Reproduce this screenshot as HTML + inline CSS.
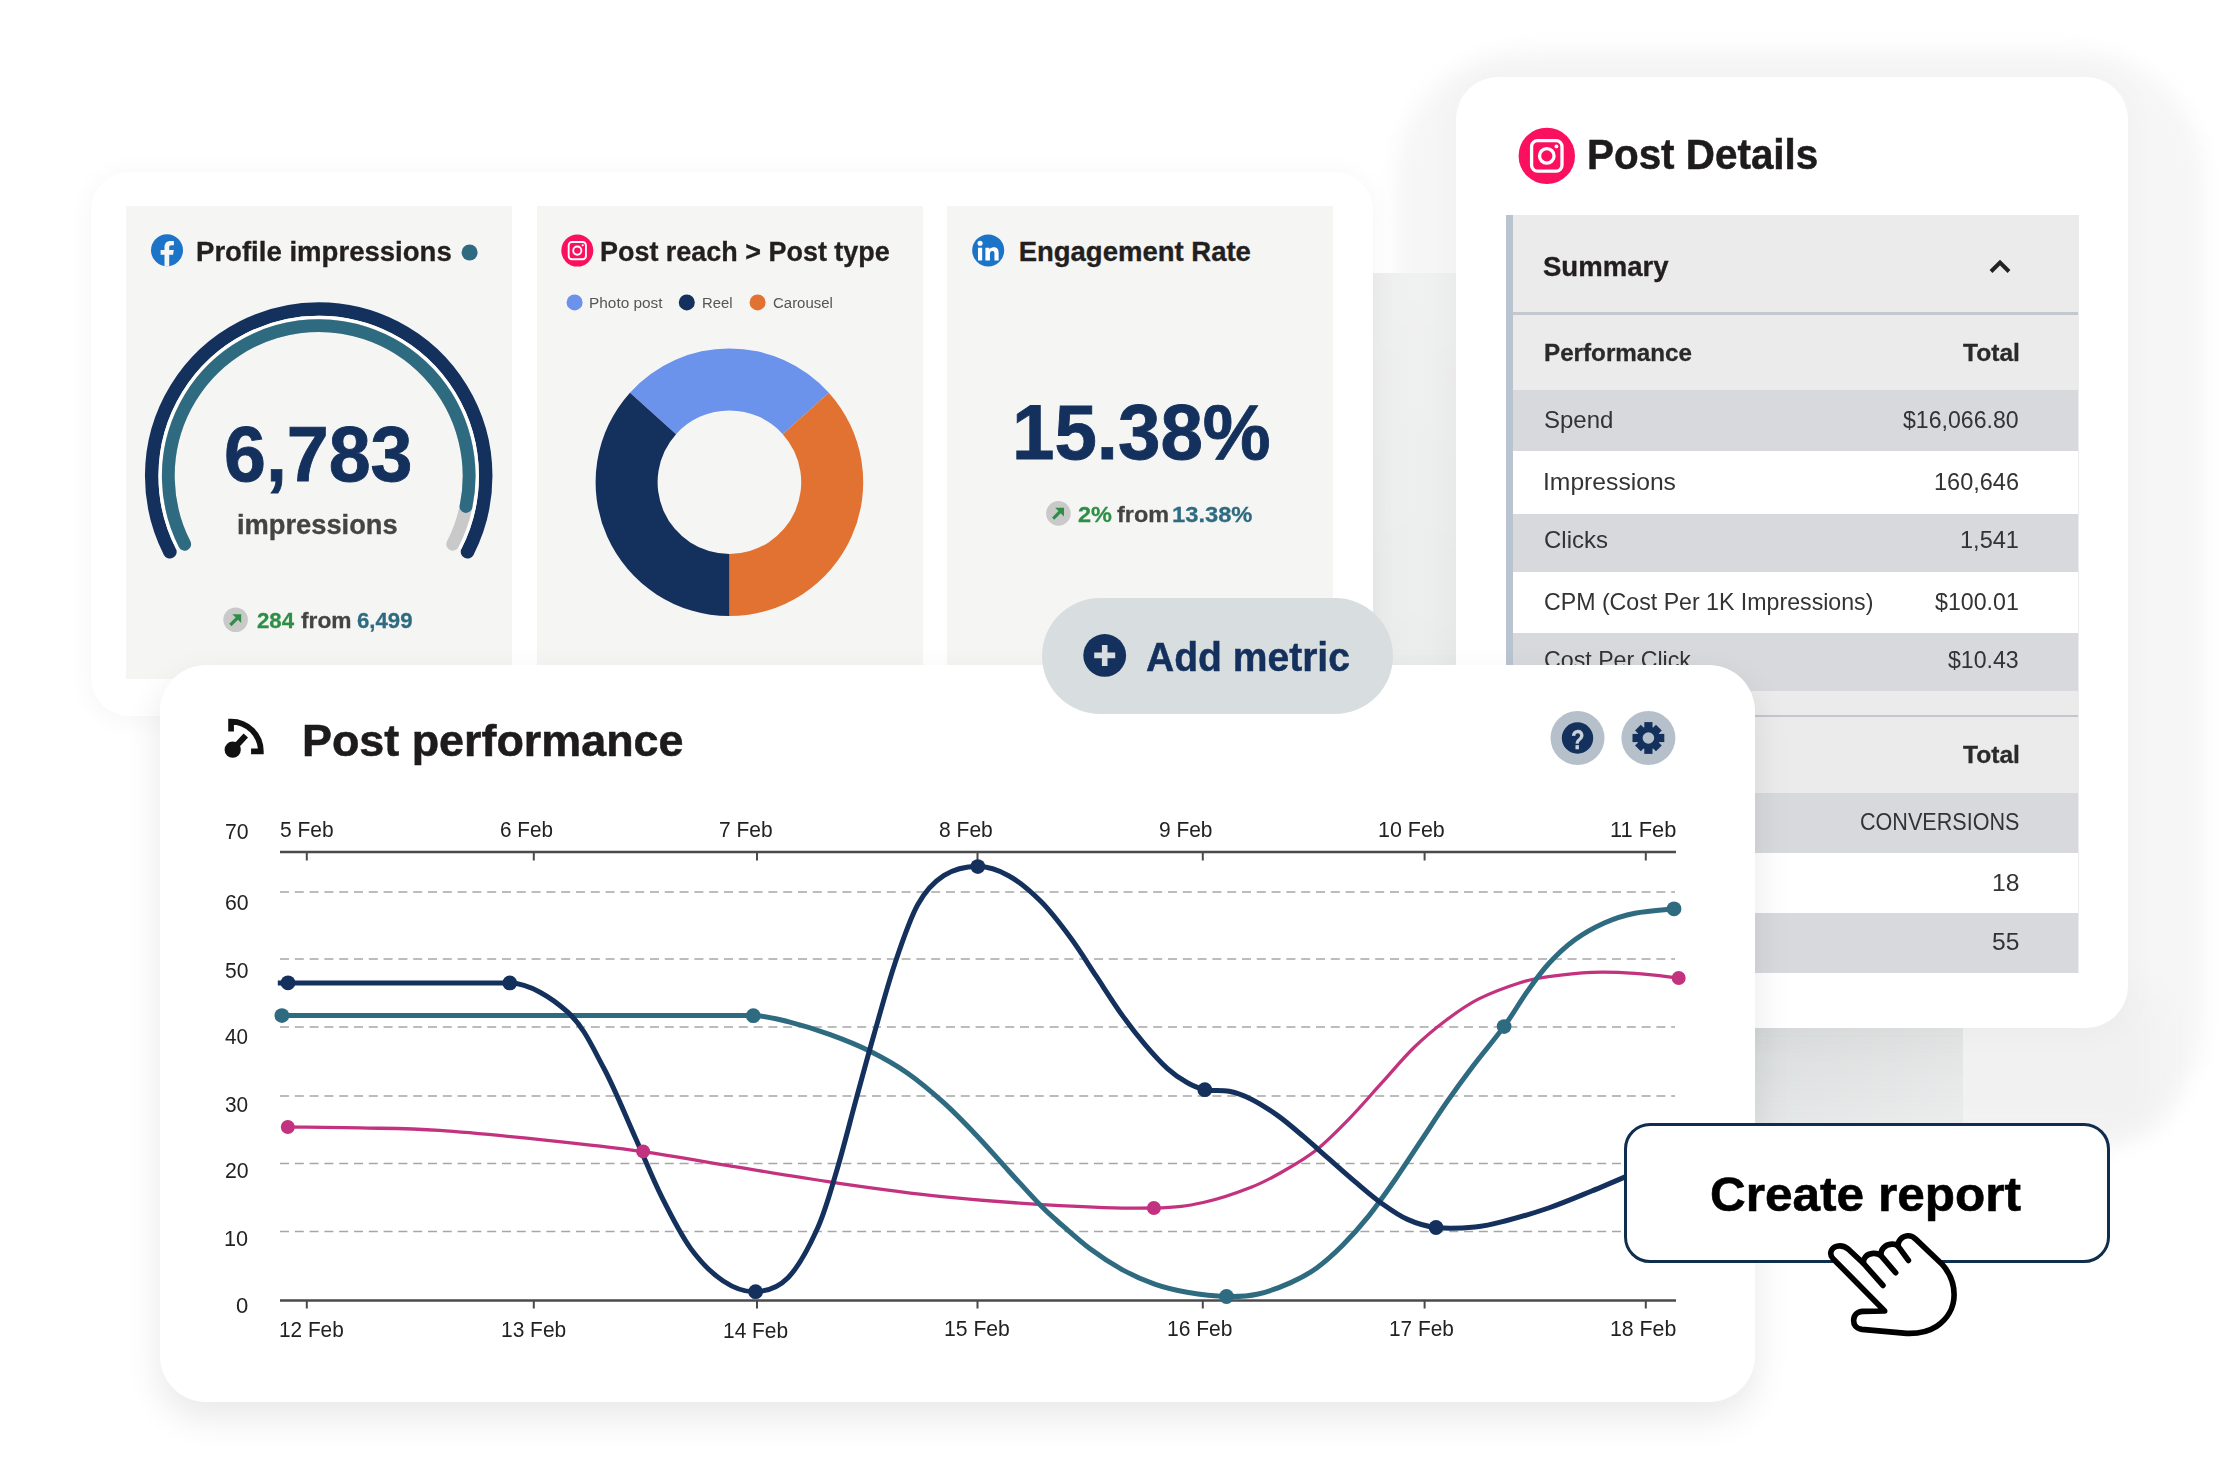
<!DOCTYPE html><html><head><meta charset="utf-8"><title>Dashboard</title><style>html,body{margin:0;padding:0}body{width:2228px;height:1480px;position:relative;overflow:hidden;background:#fff;font-family:"Liberation Sans",sans-serif}.a{position:absolute}.t{position:absolute;white-space:nowrap;line-height:1;transform-origin:0 0}</style></head><body>
<div class="a" style="left:1396px;top:50px;width:808px;height:1100px;border-radius:130px;background:#f6f6f6;filter:blur(10px)"></div>
<div class="a" style="left:1900px;top:985px;width:262px;height:150px;border-radius:40px;background:#f1f1f1;filter:blur(14px)"></div>
<div class="a" style="left:675px;top:272.5px;width:1287.5px;height:853.5px;background:linear-gradient(180deg,rgba(255,255,255,0.25) 0px,rgba(255,255,255,0) 500px,rgba(0,0,0,0.03) 760px,rgba(255,255,255,0.12) 853px),linear-gradient(90deg,#e8eaea 0px,#e8e9e9 700px,#ebecec 740px,#e8e9e9 782px,#e0e3e4 1080px,#e9eaea 1287px);"></div>
<div class="a" style="left:91px;top:172px;width:1282px;height:544px;background:#fff;border-radius:38px;box-shadow:0 3px 26px 2px rgba(0,0,0,0.038);"></div>
<div class="a" style="left:126px;top:205.5px;width:386px;height:473.5px;background:#f5f5f4;"></div>
<div class="a" style="left:537px;top:205.5px;width:385.5px;height:473.5px;background:#f5f5f4;"></div>
<div class="a" style="left:947px;top:205.5px;width:385.5px;height:473.5px;background:#f5f5f4;"></div>
<span class="t" style="left:195.95px;top:238.42px;font-size:27.5px;font-weight:bold;-webkit-text-stroke:0.33px #231f20;color:#231f20;transform:scaleX(1.0021)">Profile impressions</span>
<span class="t" style="left:600.38px;top:238.42px;font-size:27.5px;font-weight:bold;-webkit-text-stroke:0.33px #231f20;color:#231f20;transform:scaleX(0.9797)">Post reach &gt; Post type</span>
<span class="t" style="left:1018.65px;top:238.42px;font-size:27.5px;font-weight:bold;-webkit-text-stroke:0.33px #231f20;color:#231f20;transform:scaleX(1.0000)">Engagement Rate</span>
<span class="t" style="left:224.14px;top:414.67px;font-size:78px;font-weight:bold;-webkit-text-stroke:0.90px #14305c;color:#14305c;transform:scaleX(0.9656)">6,783</span>
<span class="t" style="left:237.46px;top:509.54px;font-size:28.3px;font-weight:bold;-webkit-text-stroke:0.34px #444;color:#444;transform:scaleX(0.9634)">impressions</span>
<span class="t" style="left:257.13px;top:610.05px;font-size:22.5px;font-weight:bold;-webkit-text-stroke:0.27px #2f8e46;color:#2f8e46;transform:scaleX(0.9878)">284</span>
<span class="t" style="left:301.37px;top:610.05px;font-size:22.5px;font-weight:bold;-webkit-text-stroke:0.27px #444;color:#444;transform:scaleX(1.0094)">from</span>
<span class="t" style="left:357.13px;top:610.05px;font-size:22.5px;font-weight:bold;-webkit-text-stroke:0.27px #2f6b80;color:#2f6b80;transform:scaleX(0.9869)">6,499</span>
<span class="t" style="left:588.77px;top:295.18px;font-size:15.5px;color:#555;transform:scaleX(0.9931)">Photo post</span>
<span class="t" style="left:701.81px;top:295.18px;font-size:15.5px;color:#555;transform:scaleX(0.9571)">Reel</span>
<span class="t" style="left:773.25px;top:295.18px;font-size:15.5px;color:#555;transform:scaleX(0.9653)">Carousel</span>
<span class="t" style="left:1012.32px;top:392.55px;font-size:78.5px;font-weight:bold;-webkit-text-stroke:0.90px #14305c;color:#14305c;transform:scaleX(0.9714)">15.38%</span>
<span class="t" style="left:1077.50px;top:504.22px;font-size:21.6px;font-weight:bold;-webkit-text-stroke:0.26px #2f8e46;color:#2f8e46;transform:scaleX(1.0876)">2%</span>
<span class="t" style="left:1117.37px;top:504.22px;font-size:21.6px;font-weight:bold;-webkit-text-stroke:0.26px #444;color:#444;transform:scaleX(1.0838)">from</span>
<span class="t" style="left:1172.18px;top:504.22px;font-size:21.6px;font-weight:bold;-webkit-text-stroke:0.26px #2f6b80;color:#2f6b80;transform:scaleX(1.0986)">13.38%</span>
<svg class="a" style="left:0;top:0" width="2228" height="1480" viewBox="0 0 2228 1480"><path d="M169.90 551.82A167 167 0 1 1 467.50 551.82" fill="none" stroke="#14305c" stroke-width="13.5" stroke-linecap="round"/><path d="M177.39 548.00A158.6 158.6 0 1 1 460.01 548.00" fill="none" stroke="#fff" stroke-width="3.2" stroke-linecap="butt"/><path d="M184.69 544.28A150.4 150.4 0 1 1 452.71 544.28" fill="none" stroke="#c9c9c9" stroke-width="12.8" stroke-linecap="round"/><path d="M184.69 544.28A150.4 150.4 0 1 1 465.98 506.50" fill="none" stroke="#2f6b80" stroke-width="12.8" stroke-linecap="round"/><circle cx="469.6" cy="252.5" r="8" fill="#2f6b80"/><path d="M629.97 392.67A133.8 133.8 0 0 1 828.83 392.67L782.76 434.16A71.8 71.8 0 0 0 676.04 434.16Z" fill="#6b93ec"/><path d="M828.83 392.67A133.8 133.8 0 0 1 729.40 616.00L729.40 554.00A71.8 71.8 0 0 0 782.76 434.16Z" fill="#e27232"/><path d="M729.40 616.00A133.8 133.8 0 0 1 629.97 392.67L676.04 434.16A71.8 71.8 0 0 0 729.40 554.00Z" fill="#14305c"/><circle cx="574.6" cy="302.4" r="8" fill="#6b93ec"/><circle cx="686.8" cy="302.4" r="8" fill="#14305c"/><circle cx="757.6" cy="302.4" r="8" fill="#e27232"/><circle cx="167" cy="250.3" r="16" fill="#1b74c8"/><path d="M169.2 266.3v-11.6h3.9l.7-4.6h-4.6v-2.6c0-1.4.5-2.3 2.4-2.3h2.3v-4.1c-.5-.1-1.9-.2-3.5-.2-3.5 0-5.9 2.1-5.9 6v3.2h-3.9v4.6h3.9v11.6z" fill="#f5f5f4"/><circle cx="577.3" cy="250.6" r="16" fill="#fb0f5f"/><rect x="568.67" y="241.97" width="17.26" height="17.26" rx="3.31" fill="none" stroke="#fff" stroke-width="1.89"/><circle cx="577.3" cy="250.6" r="4.11" fill="none" stroke="#fff" stroke-width="1.89"/><circle cx="582.73" cy="245.23" r="1.09" fill="#fff"/><circle cx="988.2" cy="250.4" r="16" fill="#1b74c8"/><g fill="#fff" transform="translate(988.2 251.3) scale(1.16) translate(-988.4 -250.4)"><rect x="979.6" y="247.3" width="3.6" height="11"/><circle cx="981.4" cy="243.4" r="2.2"/><path d="M986 247.3h3.4v1.6c.6-1 1.9-1.9 3.7-1.9 3.6 0 4.3 2.3 4.3 5.3v6h-3.6v-5.3c0-1.3 0-2.9-1.8-2.9s-2.1 1.4-2.1 2.8v5.4H986z"/></g><circle cx="235.6" cy="619.8" r="12.3" fill="#c9c9c9"/><path d="M230.4 625.0L238.79999999999998 616.5999999999999" stroke="#2f8e46" stroke-width="3.2" fill="none"/><path d="M232.4 614.1999999999999H241.2V623.0Z" fill="#2f8e46"/><circle cx="1058.4" cy="513.4" r="12.3" fill="#c9c9c9"/><path d="M1053.2 518.6L1061.6000000000001 510.2" stroke="#2f8e46" stroke-width="3.2" fill="none"/><path d="M1055.2 507.79999999999995H1064.0V516.6Z" fill="#2f8e46"/></svg>
<div class="a" style="left:1455.5px;top:76.5px;width:672.0px;height:951.5px;background:#fff;border-radius:42px;box-shadow:0 4px 36px 2px rgba(0,0,0,0.028);"></div>
<span class="t" style="left:1586.58px;top:134.45px;font-size:42px;font-weight:bold;-webkit-text-stroke:0.50px #1d1b1c;color:#1d1b1c;transform:scaleX(0.9620)">Post Details</span>
<div class="a" style="left:1506px;top:214.6px;width:572.5px;height:758.1px;background:#ebebeb;"></div>
<div class="a" style="left:1506px;top:214.6px;width:7.3px;height:485.4px;background:#b9c4d0;"></div>
<div class="a" style="left:1513.3px;top:312.3px;width:565.2px;height:3.0px;background:#c3c8ce;"></div>
<div class="a" style="left:1513.3px;top:390.2px;width:565.2px;height:60.8px;background:#d7d9dc;"></div>
<div class="a" style="left:1513.3px;top:451px;width:565.2px;height:63.4px;background:#fff;"></div>
<div class="a" style="left:1513.3px;top:514.4px;width:565.2px;height:57.6px;background:#d7d9dc;"></div>
<div class="a" style="left:1513.3px;top:572px;width:565.2px;height:61px;background:#fff;"></div>
<div class="a" style="left:1513.3px;top:633px;width:565.2px;height:57.8px;background:#d7d9dc;"></div>
<div class="a" style="left:1513.3px;top:714.8px;width:565.2px;height:1.8px;background:#c3c6ca;"></div>
<div class="a" style="left:1513.3px;top:792.5px;width:565.2px;height:60.5px;background:#d7d9dc;"></div>
<div class="a" style="left:1513.3px;top:853px;width:565.2px;height:60px;background:#fff;"></div>
<div class="a" style="left:1513.3px;top:913px;width:565.2px;height:59.7px;background:#d7d9dc;"></div>
<span class="t" style="left:1542.85px;top:254.04px;font-size:27px;font-weight:bold;-webkit-text-stroke:0.32px #231f20;color:#231f20;transform:scaleX(1.0202)">Summary</span>
<span class="t" style="left:1543.95px;top:341.18px;font-size:24px;font-weight:bold;-webkit-text-stroke:0.29px #2a2a2a;color:#2a2a2a;transform:scaleX(1.0086)">Performance</span>
<span class="t" style="left:1962.95px;top:341.18px;font-size:24px;font-weight:bold;-webkit-text-stroke:0.29px #2a2a2a;color:#2a2a2a;transform:scaleX(1.0246)">Total</span>
<span class="t" style="left:1544.24px;top:407.76px;font-size:24.5px;color:#333;transform:scaleX(0.9797)">Spend</span>
<span class="t" style="left:1903.47px;top:407.76px;font-size:24.5px;color:#333;transform:scaleX(0.9425)">$16,066.80</span>
<span class="t" style="left:1542.78px;top:469.96px;font-size:24.5px;color:#333;transform:scaleX(1.0067)">Impressions</span>
<span class="t" style="left:1934.05px;top:469.96px;font-size:24.5px;color:#333;transform:scaleX(0.9597)">160,646</span>
<span class="t" style="left:1543.80px;top:528.26px;font-size:24.5px;color:#333;transform:scaleX(0.9784)">Clicks</span>
<span class="t" style="left:1960.35px;top:528.26px;font-size:24.5px;color:#333;transform:scaleX(0.9613)">1,541</span>
<span class="t" style="left:1543.84px;top:589.56px;font-size:24.5px;color:#333;transform:scaleX(0.9451)">CPM (Cost Per 1K Impressions)</span>
<span class="t" style="left:1935.47px;top:589.56px;font-size:24.5px;color:#333;transform:scaleX(0.9463)">$100.01</span>
<span class="t" style="left:1543.84px;top:647.76px;font-size:24.5px;color:#333;transform:scaleX(0.9467)">Cost Per Click</span>
<span class="t" style="left:1948.37px;top:647.76px;font-size:24.5px;color:#333;transform:scaleX(0.9430)">$10.43</span>
<span class="t" style="left:1963.25px;top:743.48px;font-size:24px;font-weight:bold;-webkit-text-stroke:0.29px #2a2a2a;color:#2a2a2a;transform:scaleX(1.0246)">Total</span>
<span class="t" style="left:1859.92px;top:809.76px;font-size:24.5px;color:#333;transform:scaleX(0.8802)">CONVERSIONS</span>
<span class="t" style="left:1991.97px;top:871.06px;font-size:24.5px;color:#333;transform:scaleX(1.0061)">18</span>
<span class="t" style="left:1992.02px;top:930.16px;font-size:24.5px;color:#333;transform:scaleX(1.0045)">55</span>
<svg class="a" style="left:0;top:0" width="2228" height="1480" viewBox="0 0 2228 1480"><circle cx="1546.8" cy="155.9" r="28.2" fill="#fb0f5f"/><rect x="1531.59" y="140.69" width="30.42" height="30.42" rx="5.84" fill="none" stroke="#fff" stroke-width="3.32"/><circle cx="1546.8" cy="155.9" r="7.25" fill="none" stroke="#fff" stroke-width="3.32"/><circle cx="1556.37" cy="146.43" r="1.91" fill="#fff"/><path d="M1991 271.5L2000 262.5L2009 271.5" fill="none" stroke="#222" stroke-width="4"/></svg>
<div class="a" style="left:159.5px;top:665px;width:1595.8px;height:736.5px;background:#fff;border-radius:46px;box-shadow:0 15px 36px 1px rgba(0,0,0,0.09);"></div>
<span class="t" style="left:301.61px;top:717.71px;font-size:45px;font-weight:bold;-webkit-text-stroke:0.54px #1d1b1c;color:#1d1b1c;transform:scaleX(0.9970)">Post performance</span>
<span class="t" style="left:224.54px;top:820.75px;font-size:22.5px;color:#222;transform:scaleX(0.9442)">70</span>
<span class="t" style="left:224.54px;top:892.25px;font-size:22.5px;color:#222;transform:scaleX(0.9442)">60</span>
<span class="t" style="left:224.76px;top:959.65px;font-size:22.5px;color:#222;transform:scaleX(0.9351)">50</span>
<span class="t" style="left:225.19px;top:1026.45px;font-size:22.5px;color:#222;transform:scaleX(0.9174)">40</span>
<span class="t" style="left:224.97px;top:1093.65px;font-size:22.5px;color:#222;transform:scaleX(0.9261)">30</span>
<span class="t" style="left:224.54px;top:1160.45px;font-size:22.5px;color:#222;transform:scaleX(0.9442)">20</span>
<span class="t" style="left:224.08px;top:1227.95px;font-size:22.5px;color:#222;transform:scaleX(0.9630)">10</span>
<span class="t" style="left:235.84px;top:1294.75px;font-size:22.5px;color:#222;transform:scaleX(0.9796)">0</span>
<span class="t" style="left:279.76px;top:819.25px;font-size:22.5px;color:#222;transform:scaleX(0.9315)">5 Feb</span>
<span class="t" style="left:499.87px;top:819.25px;font-size:22.5px;color:#222;transform:scaleX(0.9191)">6 Feb</span>
<span class="t" style="left:719.15px;top:819.25px;font-size:22.5px;color:#222;transform:scaleX(0.9317)">7 Feb</span>
<span class="t" style="left:938.96px;top:819.25px;font-size:22.5px;color:#222;transform:scaleX(0.9351)">8 Feb</span>
<span class="t" style="left:1158.56px;top:819.25px;font-size:22.5px;color:#222;transform:scaleX(0.9297)">9 Feb</span>
<span class="t" style="left:1377.50px;top:819.25px;font-size:22.5px;color:#222;transform:scaleX(0.9533)">10 Feb</span>
<span class="t" style="left:1609.77px;top:819.25px;font-size:22.5px;color:#222;transform:scaleX(0.9698)">11 Feb</span>
<span class="t" style="left:279.45px;top:1318.65px;font-size:22.5px;color:#222;transform:scaleX(0.9237)">12 Feb</span>
<span class="t" style="left:501.33px;top:1318.65px;font-size:22.5px;color:#222;transform:scaleX(0.9311)">13 Feb</span>
<span class="t" style="left:723.34px;top:1320.45px;font-size:22.5px;color:#222;transform:scaleX(0.9296)">14 Feb</span>
<span class="t" style="left:943.92px;top:1318.45px;font-size:22.5px;color:#222;transform:scaleX(0.9400)">15 Feb</span>
<span class="t" style="left:1166.53px;top:1318.45px;font-size:22.5px;color:#222;transform:scaleX(0.9341)">16 Feb</span>
<span class="t" style="left:1388.54px;top:1318.45px;font-size:22.5px;color:#222;transform:scaleX(0.9252)">17 Feb</span>
<span class="t" style="left:1609.81px;top:1318.45px;font-size:22.5px;color:#222;transform:scaleX(0.9459)">18 Feb</span>
<svg class="a" style="left:0;top:0" width="2228" height="1480" viewBox="0 0 2228 1480"><path d="M280 892H1675" stroke="#a6a6a6" stroke-width="1.5" stroke-dasharray="9 5.8" fill="none"/><path d="M280 959.1H1675" stroke="#a6a6a6" stroke-width="1.5" stroke-dasharray="9 5.8" fill="none"/><path d="M280 1027.1H1675" stroke="#a6a6a6" stroke-width="1.5" stroke-dasharray="9 5.8" fill="none"/><path d="M280 1096H1675" stroke="#a6a6a6" stroke-width="1.5" stroke-dasharray="9 5.8" fill="none"/><path d="M280 1163.4H1675" stroke="#a6a6a6" stroke-width="1.5" stroke-dasharray="9 5.8" fill="none"/><path d="M280 1231.4H1675" stroke="#a6a6a6" stroke-width="1.5" stroke-dasharray="9 5.8" fill="none"/><path d="M280 852H1676" stroke="#4a4a4a" stroke-width="2.6"/><path d="M280 1300.5H1676" stroke="#4a4a4a" stroke-width="2.6"/><path d="M306.8 852V860.5M306.8 1300V1308.5" stroke="#4a4a4a" stroke-width="2"/><path d="M533.8 852V860.5M533.8 1300V1308.5" stroke="#4a4a4a" stroke-width="2"/><path d="M757 852V860.5M757 1300V1308.5" stroke="#4a4a4a" stroke-width="2"/><path d="M977.5 852V860.5M977.5 1300V1308.5" stroke="#4a4a4a" stroke-width="2"/><path d="M1202.8 852V860.5M1202.8 1300V1308.5" stroke="#4a4a4a" stroke-width="2"/><path d="M1424.6 852V860.5M1424.6 1300V1308.5" stroke="#4a4a4a" stroke-width="2"/><path d="M1645.8 852V860.5M1645.8 1300V1308.5" stroke="#4a4a4a" stroke-width="2"/><path d="M287.8 1127.0C299.8 1127.2 334.7 1127.3 360.0 1127.9C385.3 1128.5 408.3 1128.3 439.5 1130.4C470.7 1132.5 513.3 1136.8 547.2 1140.3C581.1 1143.8 613.2 1147.4 643.1 1151.6C673.0 1155.8 694.9 1160.2 726.8 1165.4C758.7 1170.6 798.6 1177.4 834.5 1182.6C870.4 1187.8 904.6 1192.8 942.2 1196.6C979.8 1200.4 1024.7 1203.7 1060.0 1205.6C1095.3 1207.5 1130.0 1208.5 1153.9 1208.0C1177.8 1207.5 1186.9 1206.0 1203.2 1202.5C1219.5 1199.0 1238.3 1192.3 1251.8 1187.0C1265.3 1181.7 1273.4 1176.9 1284.2 1170.7C1295.0 1164.5 1305.9 1158.3 1316.7 1149.7C1327.5 1141.1 1338.3 1130.0 1349.1 1118.9C1359.9 1107.8 1370.7 1095.1 1381.5 1083.2C1392.3 1071.3 1403.2 1058.0 1414.0 1047.5C1424.8 1037.0 1435.6 1028.1 1446.4 1020.0C1457.2 1011.9 1466.5 1005.1 1478.8 998.9C1491.1 992.7 1508.4 986.4 1520.0 982.7C1531.6 979.0 1536.6 978.4 1548.6 976.7C1560.6 975.0 1577.4 973.0 1591.8 972.4C1606.2 971.8 1620.5 972.4 1635.0 973.3C1649.5 974.2 1671.4 977.2 1678.7 978.0" fill="none" stroke="#c3327e" stroke-width="3.3" stroke-linecap="round"/><path d="M281.9 1015.6H753.3C764.9 1015.7 775.2 1018.5 788.0 1021.6C800.8 1024.8 816.7 1029.7 830.2 1034.6C843.7 1039.5 856.1 1044.3 869.1 1050.8C882.1 1057.3 895.6 1064.8 908.0 1073.5C920.4 1082.2 932.4 1092.5 943.7 1102.7C955.1 1113.0 965.3 1123.7 976.1 1135.0C986.9 1146.3 997.9 1159.1 1008.5 1170.7C1019.1 1182.3 1031.9 1196.4 1040.0 1204.8C1048.1 1213.2 1049.0 1213.7 1057.3 1221.0C1065.6 1228.3 1078.9 1240.5 1089.7 1248.6C1100.5 1256.7 1111.3 1263.7 1122.1 1269.6C1132.9 1275.5 1143.8 1280.4 1154.6 1284.2C1165.4 1288.0 1175.0 1290.2 1187.0 1292.3C1199.0 1294.3 1214.6 1296.2 1226.5 1296.5C1238.4 1296.8 1247.6 1296.3 1258.3 1294.0C1269.0 1291.7 1281.0 1286.9 1290.7 1282.6C1300.4 1278.3 1308.1 1274.2 1316.7 1268.0C1325.3 1261.8 1333.9 1254.0 1342.6 1245.3C1351.2 1236.6 1359.9 1226.9 1368.6 1216.1C1377.2 1205.3 1385.9 1192.9 1394.5 1180.5C1403.1 1168.1 1411.8 1154.6 1420.4 1141.6C1429.1 1128.6 1437.8 1115.0 1446.4 1102.6C1455.1 1090.2 1462.7 1079.7 1472.3 1067.0C1481.9 1054.3 1495.0 1038.9 1504.1 1026.4C1513.2 1013.9 1519.6 1002.3 1527.0 991.9C1534.4 981.5 1540.7 972.4 1548.6 963.8C1556.5 955.1 1565.1 946.9 1574.5 940.0C1583.9 933.1 1594.7 927.2 1604.8 922.7C1614.9 918.2 1623.5 915.5 1635.0 913.2C1646.5 910.9 1667.5 909.5 1674.0 908.8" fill="none" stroke="#2f6b80" stroke-width="5" stroke-linecap="round"/><path d="M277.8 983H509.8C529.0 983.0 551.9 997.9 567.5 1011.9C583.1 1025.9 591.9 1045.9 603.2 1067.0C614.6 1088.1 625.9 1116.7 635.6 1138.3C645.3 1159.9 652.4 1178.3 661.6 1196.7C670.8 1215.1 680.5 1234.5 690.8 1248.6C701.1 1262.6 712.4 1273.8 723.2 1281.0C734.0 1288.2 744.8 1292.2 755.6 1291.7C766.4 1291.2 777.7 1288.2 788.0 1277.7C798.3 1267.2 809.1 1246.8 817.2 1229.0C825.3 1211.2 830.2 1192.3 836.7 1170.7C843.2 1149.1 849.9 1122.1 856.1 1099.4C862.3 1076.7 867.5 1057.2 874.0 1034.5C880.5 1011.8 887.7 984.8 895.0 963.2C902.3 941.6 909.6 919.4 917.7 904.8C925.8 890.2 933.7 882.1 943.7 875.7C953.7 869.3 967.0 866.6 977.8 866.6C988.6 866.6 998.1 869.9 1008.6 875.7C1019.1 881.5 1030.7 891.3 1041.0 901.6C1051.3 911.9 1061.0 924.9 1070.2 937.3C1079.4 949.7 1087.6 963.2 1096.2 976.2C1104.8 989.2 1114.0 1003.8 1122.1 1015.1C1130.2 1026.5 1137.2 1035.4 1144.8 1044.3C1152.4 1053.2 1160.5 1062.2 1167.5 1068.6C1174.5 1075.0 1180.8 1079.0 1187.0 1082.5C1193.2 1086.0 1197.8 1088.2 1204.8 1089.7C1211.8 1091.2 1221.3 1089.7 1229.1 1091.3C1236.9 1092.9 1243.7 1095.4 1251.8 1099.4C1259.9 1103.5 1269.1 1109.4 1277.8 1115.6C1286.5 1121.8 1295.1 1129.4 1303.7 1136.7C1312.3 1144.0 1320.9 1151.8 1329.6 1159.4C1338.2 1167.0 1346.9 1174.8 1355.6 1182.1C1364.2 1189.4 1372.8 1197.0 1381.5 1203.2C1390.2 1209.4 1398.4 1215.4 1407.5 1219.4C1416.6 1223.5 1424.8 1226.2 1436.0 1227.5C1447.2 1228.8 1463.5 1228.1 1475.0 1227.0C1486.5 1225.9 1492.7 1224.2 1505.0 1221.0C1517.3 1217.8 1534.1 1213.0 1548.6 1208.0C1563.1 1203.0 1576.6 1197.2 1591.8 1191.0C1607.0 1184.8 1632.0 1173.9 1640.0 1170.5" fill="none" stroke="#14305c" stroke-width="5" stroke-linecap="butt"/><circle cx="288" cy="982.8" r="7.4" fill="#14305c"/><circle cx="509.8" cy="982.9" r="7.4" fill="#14305c"/><circle cx="755.6" cy="1291.7" r="7.4" fill="#14305c"/><circle cx="977.8" cy="866.6" r="7.4" fill="#14305c"/><circle cx="1204.8" cy="1089.7" r="7.4" fill="#14305c"/><circle cx="1436" cy="1227.5" r="7.4" fill="#14305c"/><circle cx="281.9" cy="1015.6" r="7.4" fill="#2f6b80"/><circle cx="753.3" cy="1015.7" r="7.4" fill="#2f6b80"/><circle cx="1226.5" cy="1296.5" r="7.4" fill="#2f6b80"/><circle cx="1504.1" cy="1026.6" r="7.4" fill="#2f6b80"/><circle cx="1674" cy="908.8" r="7.4" fill="#2f6b80"/><circle cx="287.8" cy="1127" r="7" fill="#c3327e"/><circle cx="643.1" cy="1151.4" r="7" fill="#c3327e"/><circle cx="1153.9" cy="1208" r="7" fill="#c3327e"/><circle cx="1678.7" cy="978" r="7" fill="#c3327e"/><circle cx="1577.5" cy="738" r="27" fill="#b5c0cb"/><circle cx="1577.5" cy="738" r="15.7" fill="#14305c"/><circle cx="1648.4" cy="738" r="27" fill="#b5c0cb"/><rect x="1644.3000000000002" y="722.1" width="8.2" height="31.8" fill="#14305c" transform="rotate(0 1648.4 738)"/><rect x="1644.3000000000002" y="723.2" width="8.2" height="29.6" fill="#14305c" transform="rotate(45 1648.4 738)"/><rect x="1644.3000000000002" y="722.1" width="8.2" height="31.8" fill="#14305c" transform="rotate(90 1648.4 738)"/><rect x="1644.3000000000002" y="723.2" width="8.2" height="29.6" fill="#14305c" transform="rotate(135 1648.4 738)"/><circle cx="1648.4" cy="738" r="11.3" fill="#14305c"/><circle cx="1648.4" cy="738" r="5.8" fill="#b5c0cb"/><g transform="translate(210 700) scale(0.05405)" fill="none" stroke="#111" stroke-width="106"><path d="M390 585V400A550 550 0 0 1 940 950H760" stroke-linejoin="miter"/><path d="M420 920L662 658" stroke-width="112"/><circle cx="420" cy="920" r="150" fill="#111" stroke="none"/></g></svg>
<span class="t" style="left:1570.92px;top:725.82px;font-size:27.5px;font-weight:bold;-webkit-text-stroke:0.33px #c9d2dc;color:#c9d2dc;transform:scaleX(0.8042)">?</span>
<div class="a" style="left:1041.5px;top:597.6px;width:351.0px;height:116.2px;background:#d8dedf;border-radius:58px;"></div>
<svg class="a" style="left:0;top:0" width="2228" height="1480" viewBox="0 0 2228 1480"><circle cx="1104.7" cy="655.4" r="21.4" fill="#14305c"/><path d="M1094.2 655.4H1115.2M1104.7 644.9V665.9" stroke="#d8dedf" stroke-width="5.6"/></svg>
<span class="t" style="left:1146.02px;top:637.39px;font-size:41px;font-weight:bold;-webkit-text-stroke:0.49px #14305c;color:#14305c;transform:scaleX(0.9521)">Add metric</span>
<div class="a" style="left:1623.6px;top:1122.9px;width:486.6px;height:140.6px;box-sizing:border-box;background:#fff;border:3.4px solid #0f2d4d;border-radius:26px"></div>
<span class="t" style="left:1709.82px;top:1170.67px;font-size:48px;font-weight:bold;-webkit-text-stroke:0.58px #000;color:#000;transform:scaleX(1.0315)">Create report</span>
<svg class="a" style="left:0;top:0" width="2228" height="1480" viewBox="0 0 2228 1480"><g transform="translate(1810 1220) scale(0.08787)" stroke="#000" stroke-width="64" stroke-linejoin="round" stroke-linecap="round"><path fill="#fff" d="M850 1035 L262 440 C215 390 235 320 300 300 C350 285 400 300 440 335 L610 495 C600 440 640 385 720 380 C760 378 790 390 808 405 C800 340 850 280 930 275 C960 273 985 282 1000 295 C1000 230 1050 185 1110 180 C1150 178 1180 195 1200 215 L1500 500 C1590 600 1640 720 1640 850 C1640 1000 1560 1130 1440 1210 C1340 1275 1230 1295 1100 1290 L590 1245 C520 1235 495 1190 497 1140 C500 1080 540 1042 600 1040 Z"/><path fill="none" d="M610 495 L830 745 M808 405 L975 600 M1000 295 L1120 460"/></g></svg>
</body></html>
